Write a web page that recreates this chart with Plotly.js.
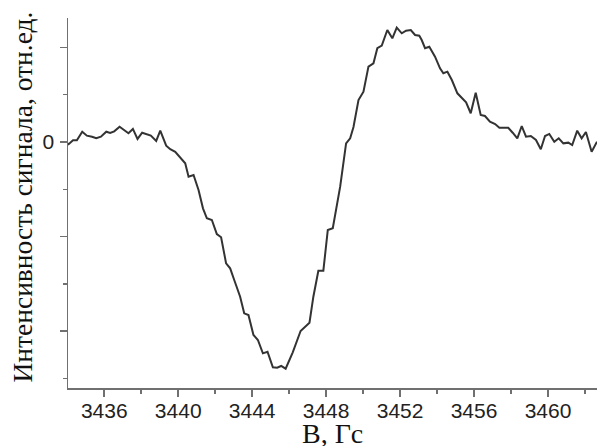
<!DOCTYPE html>
<html>
<head>
<meta charset="utf-8">
<script src="https://cdn.plot.ly/plotly-3.0.1.min.js"></script>
<style>
  html, body { margin: 0; padding: 0; background: #fff; }
  #chart { width: 597px; height: 446px; }
</style>
</head>
<body>
<div id="chart"></div>
<script>
// EPR signal: magnetic field B (Gs) and signal intensity (arb. units)
const fieldB = [
  3434.00, 3434.07, 3434.31, 3434.52, 3434.81, 3435.06, 3435.34, 3435.57, 3435.82, 3436.11,
  3436.32, 3436.54, 3436.83, 3437.08, 3437.31, 3437.55, 3437.80, 3438.05, 3438.31, 3438.52,
  3438.81, 3439.03, 3439.35, 3439.57, 3439.84, 3440.16, 3440.38, 3440.56, 3440.83, 3441.10,
  3441.34, 3441.55, 3441.82, 3442.09, 3442.32, 3442.59, 3442.81, 3443.03, 3443.35, 3443.57,
  3443.80, 3444.07, 3444.31, 3444.58, 3444.83, 3445.12, 3445.35, 3445.57, 3445.81, 3446.19,
  3446.62, 3447.10, 3447.31, 3447.58, 3447.85, 3448.09, 3448.36, 3448.76, 3449.08, 3449.30,
  3449.48, 3449.75, 3450.02, 3450.29, 3450.56, 3450.77, 3451.01, 3451.31, 3451.58, 3451.82,
  3452.09, 3452.32, 3452.58, 3452.81, 3453.04, 3453.17, 3453.35, 3453.58, 3453.89, 3454.16,
  3454.34, 3454.56, 3454.80, 3455.10, 3455.34, 3455.57, 3455.82, 3456.09, 3456.36, 3456.59,
  3456.86, 3457.14, 3457.37, 3457.58, 3457.85, 3458.09, 3458.34, 3458.58, 3458.81, 3459.07,
  3459.35, 3459.61, 3459.84, 3460.07, 3460.34, 3460.58, 3460.83, 3461.10, 3461.31, 3461.58,
  3461.82, 3462.05, 3462.36, 3462.65
];
const signal = [
  -0.014, -0.024, 0.018, 0.018, 0.109, 0.067, 0.056, 0.039, 0.056, 0.109,
  0.095, 0.113, 0.162, 0.124, 0.092, 0.138, 0.032, 0.098, 0.081, 0.067,
  0.011, 0.120, -0.039, -0.077, -0.103, -0.180, -0.225, -0.367, -0.349, -0.508,
  -0.702, -0.807, -0.825, -0.974, -1.008, -1.284, -1.337, -1.460, -1.637, -1.813,
  -1.831, -2.042, -2.095, -2.236, -2.219, -2.384, -2.388, -2.370, -2.399, -2.228,
  -2.000, -1.912, -1.637, -1.362, -1.362, -0.931, -0.913, -0.473, -0.014, 0.039,
  0.159, 0.444, 0.532, 0.797, 0.833, 0.992, 1.019, 1.185, 1.097, 1.210,
  1.150, 1.178, 1.185, 1.132, 1.125, 1.079, 0.992, 1.008, 0.903, 0.780,
  0.727, 0.744, 0.656, 0.515, 0.469, 0.420, 0.304, 0.522, 0.286, 0.275,
  0.215, 0.190, 0.151, 0.151, 0.151, 0.098, 0.039, 0.169, 0.056, 0.063,
  0.021, -0.077, 0.063, 0.085, 0.003, 0.039, -0.014, -0.007, -0.032, 0.120,
  0.039, 0.106, -0.103, 0.003
];

// Axis ticks
const xTickVals = [3436, 3440, 3444, 3448, 3452, 3456, 3460];
const xTickText = ['3436', '3440', '3444', '3448', '3452', '3456', '3460'];
const xMinorVals = [3438, 3442, 3446, 3450, 3454, 3458, 3462];
const yTickVals = [1, 0, -1, -2];
const yTickText = ['', '0', '', ''];
const yMinorVals = [0.5, -0.5, -1.5, -2.5];

// Axis titles
const xTitle = 'B, Гс';
const yTitle = 'Интенсивность сигнала, отн.ед.';

const axisColor = '#707070';
const tickFont = { family: '"Liberation Sans", Arial, sans-serif', size: 21, color: '#222' };
const titleFamily = '"Liberation Serif", "Times New Roman", serif';

const trace = {
  x: fieldB,
  y: signal,
  type: 'scatter',
  mode: 'lines',
  line: { color: '#333333', width: 2 },
  hoverinfo: 'skip'
};

const layout = {
  width: 597,
  height: 446,
  margin: { l: 68, r: 0, t: 18, b: 58 },
  paper_bgcolor: '#ffffff',
  plot_bgcolor: '#ffffff',
  showlegend: false,
  xaxis: {
    range: [3434.04, 3462.65],
    showgrid: false,
    zeroline: false,
    showline: true,
    linecolor: axisColor,
    linewidth: 1.5,
    ticks: 'outside',
    ticklen: 7,
    tickwidth: 1.5,
    tickcolor: axisColor,
    tickmode: 'array',
    tickvals: xTickVals,
    ticktext: xTickText,
    tickfont: tickFont,
    ticklabelstandoff: -4,
    minor: { tickmode: 'array', tickvals: xMinorVals, ticks: 'outside', ticklen: 4, tickwidth: 1.5, tickcolor: axisColor }
  },
  yaxis: {
    range: [-2.603, 1.312],
    showgrid: false,
    zeroline: false,
    showline: true,
    linecolor: axisColor,
    linewidth: 1.5,
    ticks: 'outside',
    ticklen: 7,
    tickwidth: 1.5,
    tickcolor: axisColor,
    tickmode: 'array',
    tickvals: yTickVals,
    ticktext: yTickText,
    tickfont: tickFont,
    ticklabelstandoff: 1,
    minor: { tickmode: 'array', tickvals: yMinorVals, ticks: 'outside', ticklen: 4, tickwidth: 1.5, tickcolor: axisColor }
  },
  annotations: [
    {
      text: xTitle,
      xref: 'paper', yref: 'paper',
      x: 0.5, y: -0.075,
      xanchor: 'center', yanchor: 'top',
      showarrow: false,
      font: { family: titleFamily, size: 28, color: '#111' }
    },
    {
      text: yTitle,
      textangle: -90,
      xref: 'paper', yref: 'paper',
      x: -0.086, y: 0.516,
      xanchor: 'center', yanchor: 'middle',
      showarrow: false,
      font: { family: titleFamily, size: 27.5, color: '#111' }
    }
  ]
};

Plotly.newPlot('chart', [trace], layout, { staticPlot: true, displayModeBar: false });
</script>
</body>
</html>
